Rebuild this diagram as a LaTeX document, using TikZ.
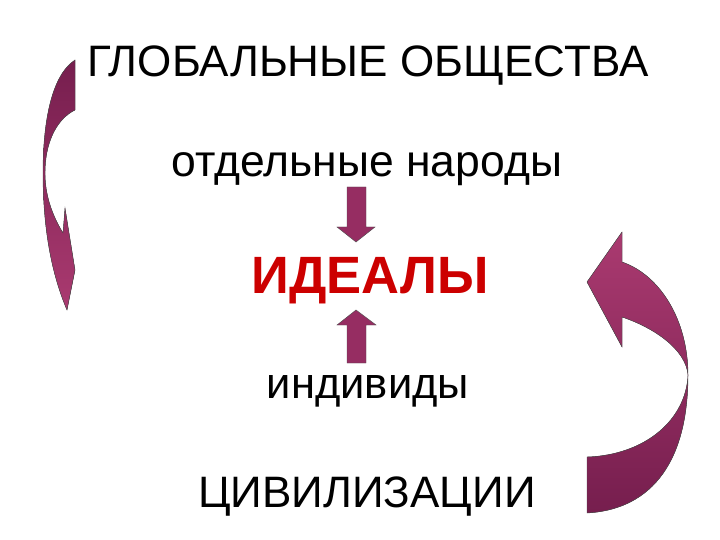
\documentclass[tikz,border=0pt]{standalone}
\usepackage{fontspec}
\setmainfont{Liberation Sans}
\definecolor{plum}{RGB}{150,45,98}
\definecolor{plumdark}{RGB}{118,30,78}
\definecolor{plumlight}{RGB}{170,58,112}
\definecolor{idealred}{RGB}{204,0,0}
\tikzset{
  word/.style={anchor=base, inner sep=0pt},
  blockarrow/.style={draw=black!70, line width=0.4pt, line join=miter}
}
\begin{document}
\begin{tikzpicture}[x=1pt, y=-1pt]
  \useasboundingbox (0,0) rectangle (720,540);

  % Draw the words
  \node[word, font=\fontsize{44}{50}\selectfont] (global) at (368,77) {ГЛОБАЛЬНЫЕ ОБЩЕСТВА};
  \node[word, font=\fontsize{44.5}{50}\selectfont] (peoples) at (367,177) {отдельные народы};
  \node[word, font=\fontsize{52.5}{60}\selectfont\bfseries, text=idealred] (ideals) at (370,293) {ИДЕАЛЫ};
  \node[word, font=\fontsize{43.5}{50}\selectfont] (persons) at (368,398) {индивиды};
  \node[word, font=\fontsize{44}{50}\selectfont] (civil) at (367,507) {ЦИВИЛИЗАЦИИ};

  % Draw the two small arrows
  \fill[blockarrow, fill=plum] (347,187) -- (366,187) -- (366,227) -- (375,227)
    -- (356,242) -- (337,227) -- (347,227) -- cycle;
  \fill[blockarrow, fill=plum] (347,363) -- (366,363) -- (366,325) -- (376,325)
    -- (356,310) -- (337,325) -- (347,325) -- cycle;

  % Left curved arrow
  \fill[blockarrow, top color=plumdark, bottom color=plumlight]
    (75,60) .. controls (52,75) and (43,120) .. (43,173)
    .. controls (43,230) and (52,275) .. (67,310)
    -- (75,270) -- (65,208) -- (63,233)
    .. controls (52,215) and (45,195) .. (45,173)
    .. controls (45,145) and (55,120) .. (75,110) -- cycle;

  % Right curved arrow
  \fill[blockarrow, top color=plumlight, bottom color=plumdark]
    (587,513) .. controls (645,510) and (688,470) .. (688,375)
    .. controls (688,320) and (660,275) .. (622,262)
    -- (622,232) -- (587,282) -- (622,347) -- (622,317)
    .. controls (655,328) and (686,350) .. (688,375)
    .. controls (686,420) and (645,455) .. (587,457) -- cycle;
\end{tikzpicture}
\end{document}
